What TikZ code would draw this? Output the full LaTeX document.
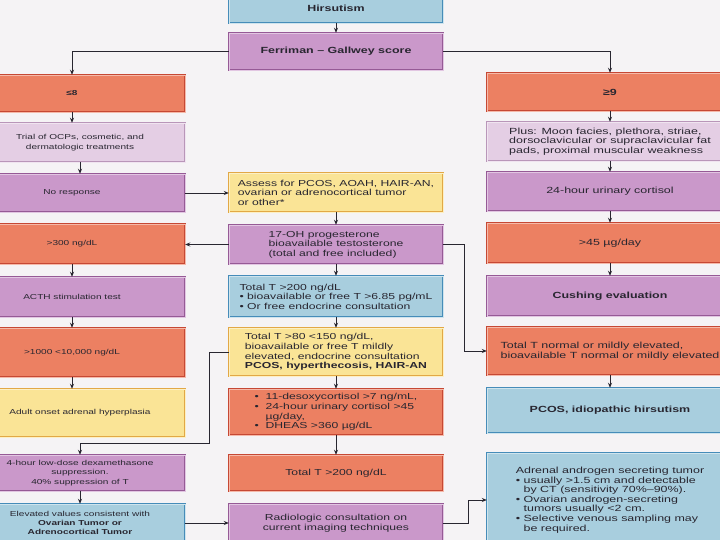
\documentclass[tikz,border=0pt]{standalone}
\usepackage{fontspec}
\setmainfont[FakeStretch=1.4]{Liberation Sans}
\usetikzlibrary{arrows.meta, positioning}

\definecolor{FlowBlue}        {RGB}{168, 206, 222}
\definecolor{FlowBlueLine}    {RGB}{ 70, 140, 185}
\definecolor{FlowPurple}      {RGB}{202, 152, 202}
\definecolor{FlowPurpleLine}  {RGB}{150,  90, 150}
\definecolor{FlowLilac}       {RGB}{228, 206, 228}
\definecolor{FlowLilacLine}   {RGB}{185, 150, 185}
\definecolor{FlowOrange}      {RGB}{236, 128,  98}
\definecolor{FlowOrangeLine}  {RGB}{198,  72,  52}
\definecolor{FlowYellow}      {RGB}{250, 228, 150}
\definecolor{FlowYellowLine}  {RGB}{226, 168,  70}
\definecolor{FlowInk}         {RGB}{ 40,  38,  48}
\definecolor{PaperBg}         {RGB}{245, 243, 245}

\tikzset{
  flowbox/.style={draw=#1Line, fill=#1, line width=0.45pt,
                  double=#1!55!white, double distance=0.9pt,
                  text=FlowInk, inner sep=3pt},
  leftcol/.style={minimum width=226pt, align=center,
                  font=\fontsize{7.2}{9.4}\selectfont},
  midcol/.style={minimum width=214pt, align=left,
                 font=\fontsize{8.7}{9.6}\selectfont},
  rightcol/.style={minimum width=246pt, align=left,
                   font=\fontsize{8.9}{9.6}\selectfont},
  titletext/.style={font=\fontsize{8.9}{9.6}\selectfont\bfseries},
  flowarrow/.style={-{Stealth[length=5pt, width=4pt]},
                    line width=0.7pt, draw=FlowInk}
}

\begin{document}
\begin{tikzpicture}[x=1pt, y=-1pt]
  \useasboundingbox (0,0) rectangle (720,540);
  \clip (0,0) rectangle (720,540);
  \fill[PaperBg] (0,0) rectangle (720,540);

  % centre column
  \node[flowbox=FlowBlue, midcol, titletext, minimum height=30pt]
       (hirs) at (336,8) {Hirsutism};
  \node[flowbox=FlowPurple, midcol, titletext, minimum height=37pt]
       (fg) at (336,51.5) {Ferriman -- Gallwey score};
  \node[flowbox=FlowYellow, midcol, minimum height=39pt]
       (assess) at (336,192.5)
       {Assess for PCOS, AOAH, HAIR-AN,\\
        ovarian or adrenocortical tumor\\
        or other*};
  \node[flowbox=FlowPurple, midcol, minimum height=39pt]
       (ohp) at (336,244.5)
       {17-OH progesterone\\
        bioavailable testosterone\\
        (total and free included)};
  \node[flowbox=FlowBlue, midcol, minimum height=41pt]
       (tt200) at (336,296.5)
       {Total T >200 ng/dL\\
        •\ bioavailable or free T >6.85 pg/mL\\
        •\ Or free endocrine consultation};
  \node[flowbox=FlowYellow, midcol, minimum height=48pt]
       (tt80) at (336,352)
       {Total T >80 <150 ng/dL,\\
        bioavailable or free T mildly\\
        elevated, endocrine consultation\\
        \textbf{PCOS, hyperthecosis, HAIR-AN}};
  \node[flowbox=FlowOrange, midcol, minimum height=46pt]
       (desoxy) at (336,412)
       {•\ \ 11-desoxycortisol >7 ng/mL,\\
        •\ \ 24-hour urinary cortisol >45\\
        \phantom{•\ \ }µg/day,\\
        •\ \ DHEAS >360 µg/dL};
  \node[flowbox=FlowOrange, midcol, minimum height=36pt]
       (tt200b) at (336,473) {Total T >200 ng/dL};
  \node[flowbox=FlowPurple, midcol, align=center, minimum height=38pt]
       (radio) at (336,523)
       {Radiologic consultation on\\
        current imaging techniques};

  % left column
  \node[flowbox=FlowOrange, leftcol, minimum height=37pt]
       (le8) at (72,93.5) {\textbf{≤8}};
  \node[flowbox=FlowLilac, leftcol, minimum width=210pt, minimum height=39pt]
       (trial) at (80,142.5)
       {Trial of OCPs, cosmetic, and\\ dermatologic treatments};
  \node[flowbox=FlowPurple, leftcol, minimum height=38pt]
       (nores) at (72,193) {No response};
  \node[flowbox=FlowOrange, leftcol, minimum height=40pt]
       (g300) at (72,244) {>300 ng/dL};
  \node[flowbox=FlowPurple, leftcol, minimum height=40pt]
       (acth) at (72,297) {ACTH stimulation test};
  \node[flowbox=FlowOrange, leftcol, minimum height=49pt]
       (g1000) at (72,352.5) {>1000 <10,000 ng/dL};
  \node[flowbox=FlowYellow, leftcol, minimum width=210pt, minimum height=48pt]
       (adult) at (80,413) {Adult onset adrenal hyperplasia};
  \node[flowbox=FlowPurple, leftcol, minimum width=210pt, minimum height=36pt]
       (dex) at (80,473)
       {4-hour low-dose dexamethasone\\ suppression.\\ 40\% suppression of T};
  \node[flowbox=FlowBlue, leftcol, minimum width=210pt, minimum height=38pt]
       (elev) at (80,523)
       {Elevated values consistent with\\
        \textbf{Ovarian Tumor or}\\ \textbf{Adrenocortical Tumor}};

  % right column
  \node[flowbox=FlowOrange, rightcol, minimum height=38pt]
       (ge9) at (610,92) {\textbf{≥9}};
  \node[flowbox=FlowLilac, rightcol, minimum height=39pt]
       (plus) at (610,141.5)
       {Plus: Moon facies, plethora, striae,\\
        dorsoclavicular or supraclavicular fat\\
        pads, proximal muscular weakness};
  \node[flowbox=FlowPurple, rightcol, minimum height=39pt]
       (cort24) at (610,191.5) {24-hour urinary cortisol};
  \node[flowbox=FlowOrange, rightcol, minimum height=40pt]
       (g45) at (610,243) {>45 µg/day};
  \node[flowbox=FlowPurple, rightcol, titletext, minimum height=40pt]
       (cush) at (610,296) {Cushing evaluation};
  \node[flowbox=FlowOrange, rightcol, minimum height=48pt]
       (ttnorm) at (610,351)
       {Total T normal or mildly elevated,\\
        bioavailable T normal or mildly elevated};
  \node[flowbox=FlowBlue, rightcol, titletext, minimum height=45pt]
       (pcos) at (610,410.5) {PCOS, idiopathic hirsutism};
  \node[flowbox=FlowBlue, rightcol, minimum height=94pt]
       (adrenal) at (610,500)
       {Adrenal androgen secreting tumor\\
        •\ usually >1.5 cm and detectable\\
        \phantom{•\ }by CT (sensitivity 70\%--90\%).\\
        •\ Ovarian androgen-secreting\\
        \phantom{•\ }tumors usually <2 cm.\\
        •\ Selective venous sampling may\\
        \phantom{•\ }be required.};

  % connectors
  \draw[flowarrow] (hirs) -- (fg);
  \draw[flowarrow] (fg.west) -| (le8.north);
  \draw[flowarrow] (fg.east) -| (ge9.north);
  \foreach \a/\b in {le8/trial, trial/nores, g300/acth, acth/g1000,
                     g1000/adult, dex/elev}
    \draw[flowarrow] (\a) -- (\a |- \b.north);
  \foreach \a/\b in {assess/ohp, ohp/tt200, tt200/tt80, tt80/desoxy,
                     desoxy/tt200b, ge9/plus, plus/cort24, cort24/g45,
                     g45/cush, ttnorm/pcos}
    \draw[flowarrow] (\a) -- (\b);
  \draw[flowarrow] (nores.east) -- (nores.east -| assess.west);
  \draw[flowarrow] (ohp.west) -- (ohp.west -| g300.east);
  \draw[flowarrow] (ohp.east) -- ++(21,0) |- (ttnorm.west);
  \draw[flowarrow] (tt80.west) -- ++(-19,0)
                   |- ([yshift=11pt]dex.north) -- (dex.north);
  \draw[flowarrow] (elev.east) -- (elev.east -| radio.west);
  \draw[flowarrow] (radio.east) -- ++(25,0) |- (adrenal.west);
\end{tikzpicture}
\end{document}
